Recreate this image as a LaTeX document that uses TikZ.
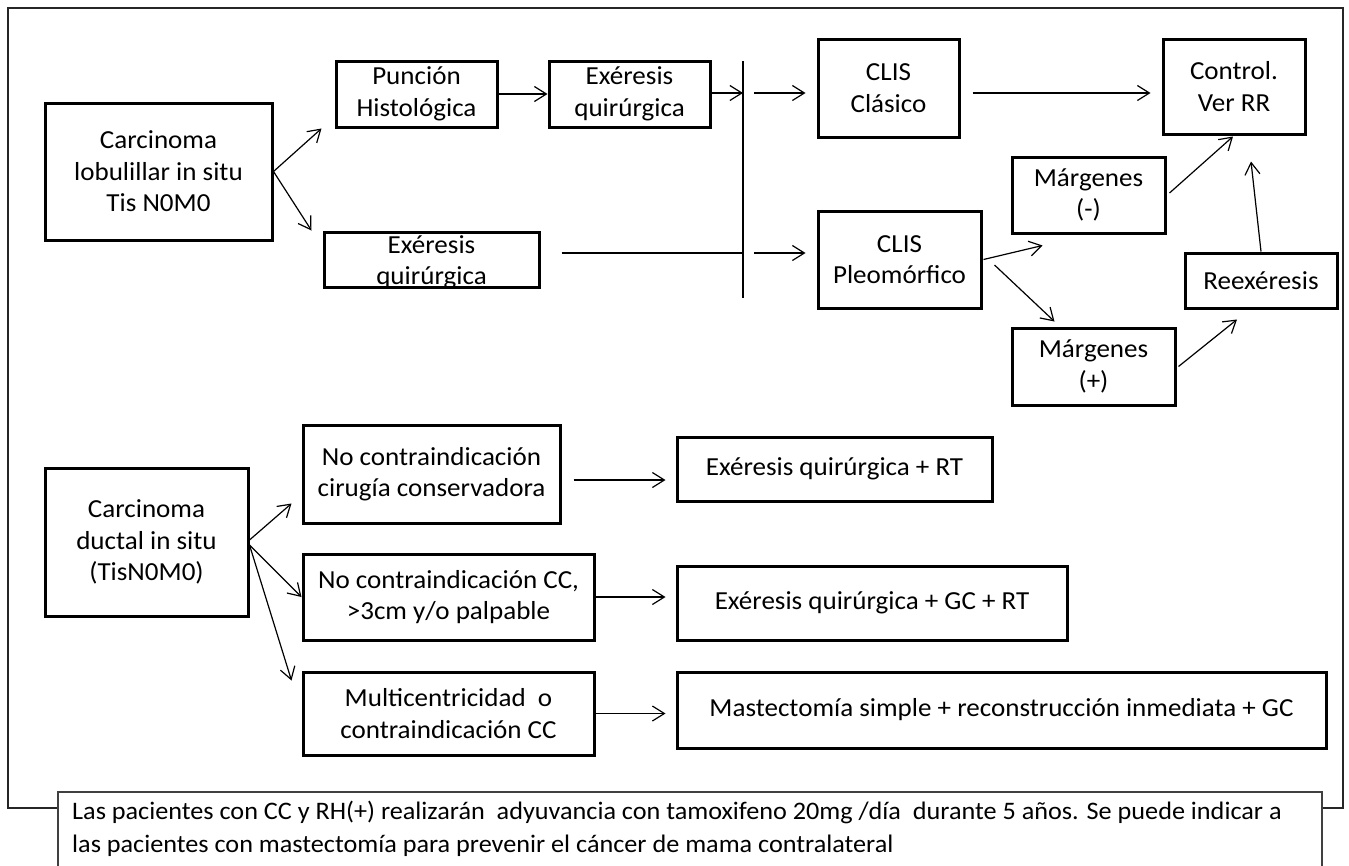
\documentclass[tikz,border=0pt]{standalone}
\usepackage{fontspec}
\setmainfont{Carlito}[FakeStretch=1.04]
\usetikzlibrary{arrows.meta,calc}
\begin{document}
\begin{tikzpicture}[x=1pt,y=-1pt,
  box/.style={draw=black,line width=3pt,inner sep=0pt,align=center,
    font=\fontsize{26}{31.5}\selectfont},
  txt/.style={inner sep=0pt,align=center,font=\fontsize{26}{31.5}\selectfont},
  arr/.style={line width=1.2pt,-{Straight Barb[length=12pt,width=15pt,line width=1.2pt]}},
  ln/.style={line width=1.2pt},
  frame/.style={draw=black!85,line width=1.5pt}]
\useasboundingbox (0,0) rectangle (1349,865);
% outer frame
\draw[frame] (8,8) rectangle (1343,808);
% footnote box
\node[draw=black!75,line width=1.5pt,fill=white,minimum width=1264pt,minimum height=90pt,
  inner sep=0pt,anchor=north west] (note) at (57,791) {};
\node[inner sep=0pt,anchor=base west,align=left,font=\fontsize{25.2}{33}\selectfont]
  (notetxt) at (72,852) {Las pacientes con CC y RH(+) realizarán\ \ adyuvancia con tamoxifeno 20mg /día\ \ durante 5 años. Se puede indicar a\\
  las pacientes con mastectomía para prevenir el cáncer de mama contralateral};
% top section
\node[box,minimum width=227pt,minimum height=137pt] (lob) at (158.5,171.5) {Carcinoma\\lobulillar in situ\\Tis N0M0};
\node[box,minimum width=161pt,minimum height=66pt] (pun) at (416.5,94) {Punción\\Histológica};
\node[box,minimum width=161pt,minimum height=66pt] (ex1) at (629.5,94) {Exéresis\\quirúrgica};
\node[box,minimum width=215pt,minimum height=55pt] (ex2) at (431.5,259.5) {};
\node[txt] (ex2t) at ($(ex2.center)+(0,3)$) {Exéresis\\quirúrgica};
\node[box,minimum width=141pt,minimum height=98pt] (cla) at (888.5,88) {CLIS\\Clásico};
\node[box,minimum width=163pt,minimum height=97pt] (pleo) at (899.5,259.5) {CLIS\\Pleomórfico};
\node[box,minimum width=142pt,minimum height=95pt] (ctl) at (1234,86.5) {Control.\\Ver RR};
\node[box,minimum width=153pt,minimum height=76pt] (mneg) at (1088.5,195) {Márgenes\\(-)};
\node[box,minimum width=163pt,minimum height=77pt] (mpos) at (1093.5,366.5) {Márgenes\\(+)};
\node[box,minimum width=152pt,minimum height=55pt] (reex) at (1261,280.5) {Reexéresis};
% vertical bar
\coordinate (bt) at (743,61);
\coordinate (bb) at (743,298);
\coordinate (bar1) at (743,93);
\coordinate (bar2) at (743,253);
\draw[ln] (bt) -- (bb);
% top connectors
\draw[arr] (lob.east) -- ($(pun.south west)+(-13,0)$);
\draw[arr] (lob.east) -- ($(ex2.north west)+(-11,0)$);
\draw[arr] (pun.east) -- (ex1.west);
\draw[arr] (ex1.east |- bar1) -- (bar1);
\draw[arr,shorten <=11pt,shorten >=11pt] (bar1) -- (bar1 -| cla.west);
\draw[ln,shorten <=21pt] (ex2.east |- bar2) -- (bar2);
\draw[arr,shorten <=11pt,shorten >=11pt] (bar2) -- (bar2 -| pleo.west);
\draw[arr,shorten <=12pt,shorten >=11pt] (cla.east |- bar1) -- (bar1 -| ctl.west);
\draw[arr] ($(pleo.east)+(1,0)$) -- ($(mneg.south west)+(32,11)$);
\draw[arr] ($(pleo.east)+(12,5.5)$) -- ($(mpos.north west)+(44,-5)$);
\draw[arr] ($(mneg.east)+(3,-2)$) -- ($(ctl.south)+(-1,1)$);
\draw[arr] (reex.north) -- ($(ctl.south)+(17,26)$);
\draw[arr] ($(mpos.east)+(2,0)$) -- ($(reex.south)+(-24,10)$);
% bottom section
\node[box,minimum width=203pt,minimum height=148pt] (duc) at (146.5,542) {Carcinoma\\ductal in situ\\(TisN0M0)};
\node[box,minimum width=257pt,minimum height=98pt] (nc1) at (431.5,474) {No contraindicación\\cirugía conservadora};
\node[box,minimum width=291pt,minimum height=86pt] (nc2) at (448.5,597) {No contraindicación CC,\\>3cm y/o palpable};
\node[box,minimum width=291pt,minimum height=83pt] (mul) at (448.5,713.5) {Multicentricidad\ \ o\\contraindicación CC};
\node[box,minimum width=315pt,minimum height=64pt] (r1) at (834.5,469) {Exéresis quirúrgica + RT};
\node[box,minimum width=390pt,minimum height=74pt] (r2) at (872,603) {Exéresis quirúrgica + GC + RT};
\node[box,minimum width=649pt,minimum height=76pt] (r3) at (1001.5,710) {Mastectomía simple + reconstrucción inmediata + GC};
\draw[arr] ($(duc.east)+(0,-2)$) -- ($(nc1.south west)+(-10,-21)$);
\draw[arr] ($(duc.east)+(0,3)$) -- (nc2.west);
\draw[arr] ($(duc.east)+(0,3)$) -- ($(mul.north west)+(-10,10)$);
\draw[arr,shorten >=10pt] ($(nc1.east)+(12,6)$) -- ($(r1.west)+(0,11)$);
\draw[arr,shorten >=10pt] (nc2.east) -- (nc2.east -| r2.west);
\draw[arr,shorten >=10pt] (mul.east) -- (mul.east -| r3.west);
\end{tikzpicture}
\end{document}
